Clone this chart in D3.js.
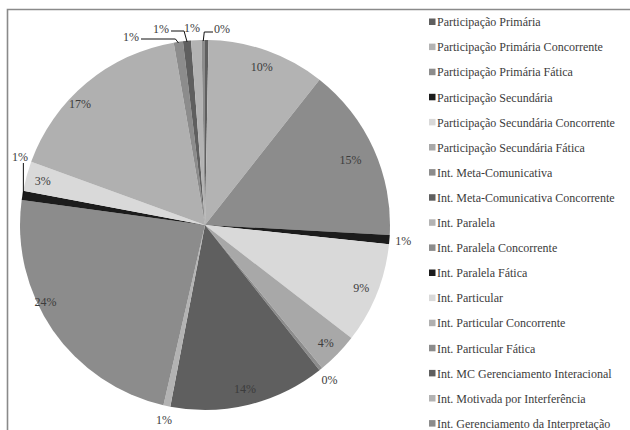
<!DOCTYPE html>
<html>
<head>
<meta charset="utf-8">
<script src="https://cdn.jsdelivr.net/npm/d3@7"></script>
<style>
  html, body { margin: 0; padding: 0; background: #fff; }
  svg { display: block; }
</style>
</head>
<body>
<svg id="chart" width="630" height="430"></svg>
<script>
// Categories (legend order = slice order, clockwise from 12 o'clock)
const categories = [
  "Participação Primária",
  "Participação Primária Concorrente",
  "Participação Primária Fática",
  "Participação Secundária",
  "Participação Secundária Concorrente",
  "Participação Secundária Fática",
  "Int. Meta-Comunicativa",
  "Int. Meta-Comunicativa Concorrente",
  "Int. Paralela",
  "Int. Paralela Concorrente",
  "Int. Paralela Fática",
  "Int. Particular",
  "Int. Particular Concorrente",
  "Int. Particular Fática",
  "Int. MC Gerenciamento Interacional",
  "Int. Motivada por Interferência",
  "Int. Gerenciamento da Interpretação"
];

// Share of each interaction type (percent)
const values = [0.3, 10.3, 15.2, 0.8, 8.8, 3.6, 0.3, 13.6, 0.6, 23.5, 0.8, 2.6, 16.7, 0.8, 0.7, 0.9, 0.3];

// Grey shade per category
const shades = [
  "#5f5f5f", "#b3b3b3", "#8c8c8c", "#1c1c1c", "#d9d9d9", "#a8a8a8",
  "#8c8c8c", "#5f5f5f", "#b3b3b3", "#8c8c8c", "#1c1c1c", "#d9d9d9",
  "#b0b0b0", "#8c8c8c", "#5f5f5f", "#b3b3b3", "#8c8c8c"
];

const FONT = '"Liberation Serif"';

const data = categories.map((c, i) => ({ name: c, value: values[i], color: shades[i] }));

const svg = d3.select("#chart");

// Chart frame (top and left edges visible)
svg.append("path")
  .attr("d", "M7.5,430 V9.5 H630")
  .attr("fill", "none")
  .attr("stroke", "#8a8a8a")
  .attr("stroke-width", 1.6);

const cx = 205, cy = 225, R = 185;
const g = svg.append("g").attr("transform", `translate(${cx},${cy})`);

const pie = d3.pie().sort(null).value(d => d.value);
const arcs = pie(data);
const total = d3.sum(values);

const arc = d3.arc().innerRadius(0).outerRadius(R);

g.selectAll("path.slice")
  .data(arcs)
  .join("path")
  .attr("class", "slice")
  .attr("d", arc)
  .attr("fill", d => d.data.color);

// Point on a circle of radius r at angle a (clockwise from 12 o'clock)
const polar = (a, r) => [r * Math.sin(a), -r * Math.cos(a)];
const mid = d => (d.startAngle + d.endAngle) / 2;

// Callout labels for the crowded thin slices (offsets from the pie centre, leader side)
const callouts = {
  "Int. Particular Fática":              { at: [-74, -188], side: "right" },
  "Int. MC Gerenciamento Interacional":  { at: [-44, -196], side: "right" },
  "Int. Motivada por Interferência":     { at: [-13, -197], side: "none" },
  "Int. Gerenciamento da Interpretação": { at: [17, -196],  side: "left" },
  "Int. Paralela Fática":                { at: [-185, -68], side: "below" }
};
// Best-fit shifts for a few inside labels (pixels)
const nudges = {
  "Participação Primária Fática": [-8, 4],
  "Int. Paralela Concorrente": [-21, -19],
  "Int. Particular Concorrente": [-17, 8]
};
// Label sitting under the neighbouring 0% callout
const hidden = new Set(["Participação Primária"]);

const labelColor = "#3c3c3c";
const lbl = g.append("g");

arcs.forEach(d => {
  if (hidden.has(d.data.name)) return;
  const share = d.data.value / total;
  const text = Math.round(share * 100) + "%";
  const a = mid(d);
  let pos;
  const co = callouts[d.data.name];
  if (co) {
    pos = co.at;
    const edge = polar(a, R - 1);
    const hw = 8;
    let pts = null;
    if (co.side === "right") {
      const y0 = pos[1] + 2;
      pts = [[pos[0] + hw + 2, y0], [edge[0] - 3, y0], edge];
    } else if (co.side === "left") {
      const y0 = pos[1] + 3;
      pts = [[pos[0] - hw - 1, y0], [edge[0] + 1, y0], edge];
    } else if (co.side === "below") {
      pts = [[edge[0], pos[1] + 6], edge];
    }
    if (pts) {
      lbl.append("path")
        .attr("d", d3.line()(pts))
        .attr("fill", "none")
        .attr("stroke", "#111")
        .attr("stroke-width", 1);
    }
  } else if (share >= 0.02) {
    pos = polar(a, R * 0.91);
    const n = nudges[d.data.name];
    if (n) pos = [pos[0] + n[0], pos[1] + n[1]];
  } else {
    pos = polar(a, R * 1.075);
  }
  lbl.append("text")
    .attr("x", pos[0])
    .attr("y", pos[1])
    .attr("dy", "0.35em")
    .attr("text-anchor", "middle")
    .style("font-family", FONT)
    .attr("font-size", 12)
    .attr("fill", labelColor)
    .text(text);
});

// Legend
const rowY = d3.scalePoint().domain(categories).range([22, 423.6]);
const leg = svg.append("g");
const rows = leg.selectAll("g.row")
  .data(data)
  .join("g")
  .attr("class", "row")
  .attr("transform", d => `translate(429,${rowY(d.name)})`);

rows.append("rect")
  .attr("x", 0).attr("y", -3.5)
  .attr("width", 6.5).attr("height", 6.5)
  .attr("fill", d => d.color);

rows.append("text")
  .attr("x", 8)
  .attr("y", 0)
  .attr("dy", "0.35em")
  .style("font-family", FONT)
  .attr("font-size", 12)
  .attr("fill", "#3c3c3c")
  .text(d => d.name);
</script>
</body>
</html>
